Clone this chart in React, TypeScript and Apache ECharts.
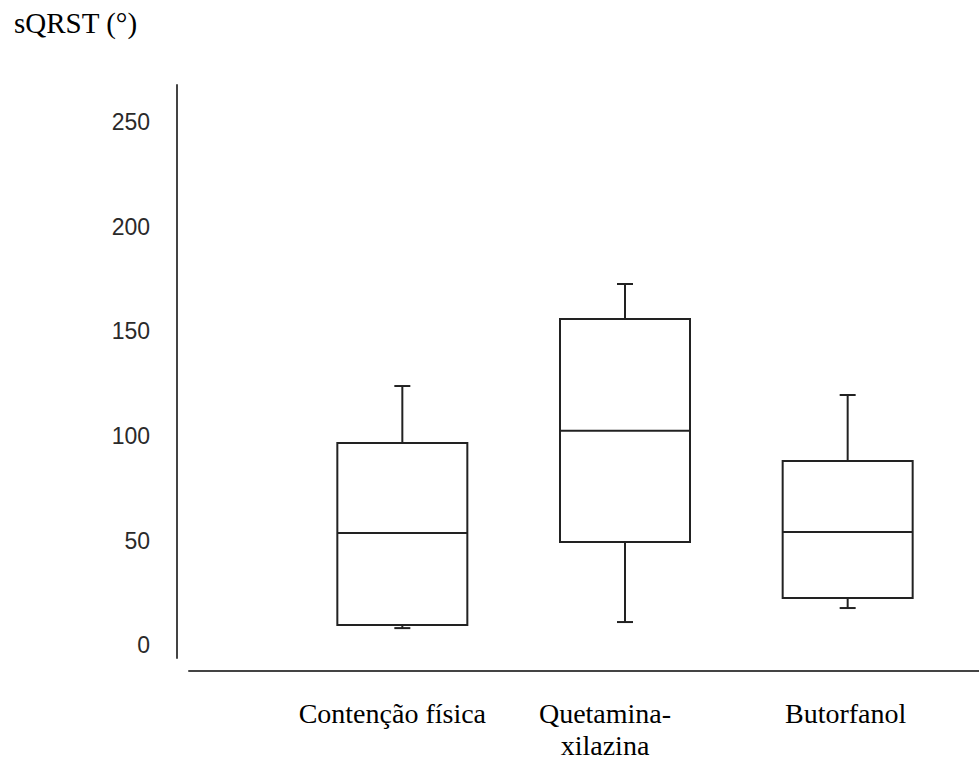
import React, { useEffect, useRef } from "react";
import * as echarts from "echarts";

const categories = ["Contenção física", "Quetamina-\nxilazina", "Butorfanol"];
const whiskerLow = [8.1, 11, 17.7];
const q1 = [9.6, 49.3, 22.5];
const median = [53.6, 102.5, 54.1];
const q3 = [96.7, 156, 88];
const whiskerHigh = [123.9, 172.7, 119.6];
const yTicks = [0, 50, 100, 150, 200, 250];
const yTitle = "sQRST (°)";

// label horizontal nudges (style only)
const labelPadRight = [20, 40, 4];

export default function App() {
  const ref = useRef<HTMLDivElement>(null);
  useEffect(() => {
    if (!ref.current) return;
    const chart = echarts.init(ref.current, undefined, { renderer: "svg" });
    const lineColor = "#222";
    const option: any = {
      animation: false,
      backgroundColor: "#fff",
      title: {
        text: yTitle,
        left: 14,
        top: 8,
        padding: 0,
        textStyle: { fontFamily: "Liberation Serif", fontSize: 29, fontWeight: "normal", color: "#000" },
      },
      grid: [
        { left: 291, right: 20, top: 85, bottom: 104, outerBoundsMode: "none", containLabel: false },
        { left: 189, right: 0, top: 85, bottom: 91, outerBoundsMode: "none", containLabel: false },
      ],
      xAxis: [
        {
          gridIndex: 0,
          type: "category",
          data: categories.map((c, i) => ({ value: c, textStyle: { padding: [0, labelPadRight[i], 0, 0] } })),
          axisLine: { show: false, onZero: false },
          axisTick: { show: false },
          splitLine: { show: false },
          axisLabel: {
            interval: 0,
            margin: 39,
            fontFamily: "Liberation Serif",
            fontSize: 28,
            lineHeight: 32,
            color: "#000",
          },
        },
        {
          gridIndex: 1,
          type: "value",
          min: 0,
          max: 1,
          axisLine: { show: true, onZero: false, lineStyle: { color: "#444", width: 2 } },
          axisTick: { show: false },
          axisLabel: { show: false },
          splitLine: { show: false },
        },
      ],
      yAxis: [
        {
          gridIndex: 0,
          type: "value",
          min: -6.2,
          max: 267.9,
          offset: 114,
          axisLine: { show: true, onZero: false, lineStyle: { color: "#444", width: 2 } },
          axisTick: { show: false },
          splitLine: { show: false },
          axisLabel: {
            customValues: yTicks,
            margin: 27,
            fontFamily: "Liberation Sans",
            fontSize: 23,
            color: "#2a2a2a",
          },
        },
        { gridIndex: 1, type: "value", min: 0, max: 1, show: false },
      ],
      series: [
        {
          type: "custom",
          xAxisIndex: 0,
          yAxisIndex: 0,
          encode: { x: 0, y: [1, 2, 3, 4, 5] },
          data: categories.map((_, i) => [i, whiskerLow[i], q1[i], median[i], q3[i], whiskerHigh[i]]),
          renderItem: (params: any, api: any) => {
            const idx = api.value(0);
            const pLow = api.coord([idx, api.value(1)]);
            const pQ1 = api.coord([idx, api.value(2)]);
            const pMed = api.coord([idx, api.value(3)]);
            const pQ3 = api.coord([idx, api.value(4)]);
            const pHigh = api.coord([idx, api.value(5)]);
            const cx = pLow[0];
            const bw = 130;
            const cw = 16;
            const ls = { stroke: lineColor, lineWidth: 2 };
            return {
              type: "group",
              children: [
                { type: "line", shape: { x1: cx, y1: pQ3[1], x2: cx, y2: pHigh[1] }, style: ls },
                { type: "line", shape: { x1: cx - cw / 2, y1: pHigh[1], x2: cx + cw / 2, y2: pHigh[1] }, style: ls },
                { type: "line", shape: { x1: cx, y1: pQ1[1], x2: cx, y2: pLow[1] }, style: ls },
                { type: "line", shape: { x1: cx - cw / 2, y1: pLow[1], x2: cx + cw / 2, y2: pLow[1] }, style: ls },
                {
                  type: "rect",
                  shape: { x: cx - bw / 2, y: pQ3[1], width: bw, height: pQ1[1] - pQ3[1] },
                  style: { fill: "#fff", stroke: lineColor, lineWidth: 2 },
                },
                { type: "line", shape: { x1: cx - bw / 2, y1: pMed[1], x2: cx + bw / 2, y2: pMed[1] }, style: ls },
              ],
            };
          },
        },
      ],
    };
    chart.setOption(option);
    return () => chart.dispose();
  }, []);
  return (
    <div
      ref={ref}
      style={{ position: "fixed", left: 0, top: 0, width: 979, height: 762, background: "#fff" }}
    />
  );
}
